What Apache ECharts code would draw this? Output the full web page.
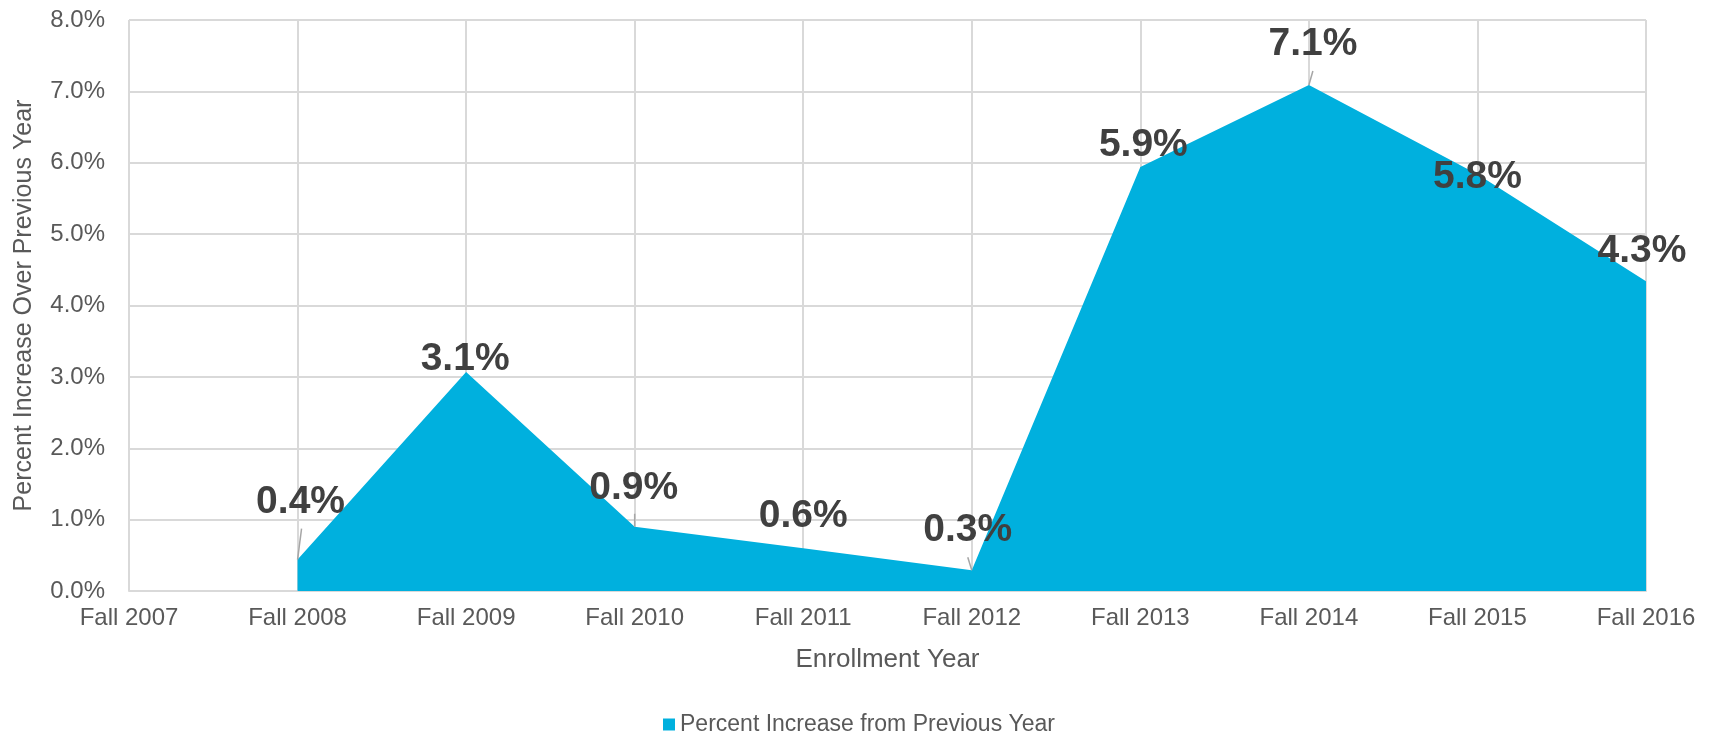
<!DOCTYPE html>
<html>
<head>
<meta charset="utf-8">
<script src="https://cdn.jsdelivr.net/npm/echarts@6/dist/echarts.min.js"></script>
<style>
html,body{margin:0;padding:0;background:#fff;}
#chart{width:1718px;height:747px;}
</style>
</head>
<body>
<div id="chart"></div>
<script>
var categories = ['Fall 2007','Fall 2008','Fall 2009','Fall 2010','Fall 2011','Fall 2012','Fall 2013','Fall 2014','Fall 2015','Fall 2016'];
var percentIncrease = [null, 0.44, 3.07, 0.90, 0.60, 0.29, 5.94, 7.09, 5.84, 4.34];
var yTicks = [0, 1, 2, 3, 4, 5, 6, 7, 8];
var seriesName = 'Percent Increase from Previous Year';

// label layout (separate from data): pixel offsets of label centre from point
var labelOffsets = [[0,0],[3,-57],[-1,-13],[-1,-39],[0,-32],[-4,-40],[3,-22],[4,-41],[0,3],[-4,-30]];
// leader line vectors (pixels) from point toward label; null = no leader
var leaderVectors = [null,[4,-31],null,[0,-13],null,[-4,-13],null,[4,-14],null,null];

var leaderData = [];
percentIncrease.forEach(function(v, i){
  if (v != null && leaderVectors[i]) leaderData.push([i, v]);
});

var font = 'Liberation Sans, Arial, sans-serif';
var chart = echarts.init(document.getElementById('chart'));
chart.setOption({
  animation: false,
  backgroundColor: '#ffffff',
  grid: { left: 129, right: 72, top: 20, bottom: 156, containLabel: false },
  legend: {
    bottom: 6,
    left: 'center',
    icon: 'rect',
    itemWidth: 12,
    itemHeight: 12,
    itemGap: 10,
    textStyle: { color: '#595959', fontSize: 23, fontFamily: font },
    data: [seriesName]
  },
  xAxis: {
    type: 'category',
    data: categories,
    boundaryGap: false,
    name: 'Enrollment Year',
    nameLocation: 'middle',
    nameGap: 56,
    nameTextStyle: { color: '#595959', fontSize: 26, fontFamily: font },
    axisLine: { show: true, lineStyle: { color: '#d9d9d9', width: 2 } },
    axisTick: { show: false },
    axisLabel: { color: '#595959', fontSize: 24, fontFamily: font, margin: 15 },
    splitLine: { show: true, lineStyle: { color: '#d9d9d9', width: 2 } }
  },
  yAxis: {
    type: 'value',
    min: yTicks[0],
    max: yTicks[yTicks.length - 1],
    interval: 1,
    name: 'Percent Increase Over Previous Year',
    nameLocation: 'middle',
    nameGap: 92,
    nameTextStyle: { color: '#595959', fontSize: 25, fontFamily: font },
    axisLine: { show: false },
    axisTick: { show: false },
    axisLabel: {
      color: '#595959', fontSize: 24, fontFamily: font, margin: 24,
      formatter: function(v){ return v.toFixed(1) + '%'; }
    },
    splitLine: { show: true, lineStyle: { color: '#d9d9d9', width: 2 } }
  },
  series: [{
    name: seriesName,
    type: 'line',
    data: percentIncrease,
    connectNulls: false,
    symbol: 'circle',
    symbolSize: 0,
    showSymbol: true,
    color: '#00B0DE',
    itemStyle: { color: '#00B0DE' },
    lineStyle: { width: 0, color: '#00B0DE' },
    areaStyle: { color: '#00B0DE', opacity: 1 },
    label: {
      show: true,
      position: 'inside',
      align: 'center',
      verticalAlign: 'middle',
      color: '#404040',
      fontSize: 39,
      fontWeight: 'bold',
      fontFamily: font,
      formatter: function(p){ return p.value == null ? '' : p.value.toFixed(1) + '%'; }
    },
    labelLayout: function(params){
      var o = labelOffsets[params.dataIndex] || [0,0];
      return { dx: o[0], dy: o[1] };
    },
    z: 2
  }, {
    name: 'leaders',
    type: 'custom',
    data: leaderData,
    silent: true,
    z: 5,
    renderItem: function(params, api){
      var i = api.value(0);
      var p = api.coord([i, api.value(1)]);
      var d = leaderVectors[i];
      return {
        type: 'line',
        shape: { x1: p[0], y1: p[1], x2: p[0] + d[0], y2: p[1] + d[1] },
        style: { stroke: '#a6a6a6', lineWidth: 1.5 }
      };
    }
  }]
});
</script>
</body>
</html>
